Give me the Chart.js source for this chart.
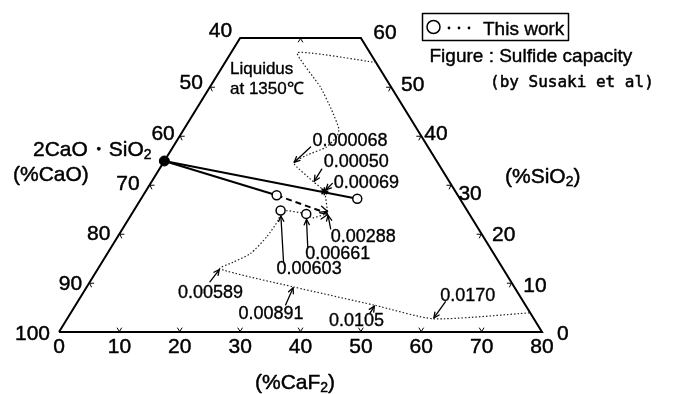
<!DOCTYPE html>
<html>
<head>
<meta charset="utf-8">
<script src="https://cdn.jsdelivr.net/npm/chart.js@4/dist/chart.umd.min.js"></script>
<style>
  html, body { margin: 0; padding: 0; background: #fff; }
  canvas { display: block; }
</style>
</head>
<body>
<canvas id="c" width="676" height="394"></canvas>
<script>
// CaO–SiO2–CaF2 section, compositions in mass %: CaF2 and SiO2 given, CaO is the rest.
const c2sCaF2 = 0;      // 2CaO·SiO2
const c2sSiO2 = 34.9;

// Slag compositions measured in this work
const thisWorkCaF2 = [35.8, 22.1, 24.3, 28.9];
const thisWorkSiO2 = [27.2, 27.9, 24.8, 24.1];

// Liquidus at 1350 °C, upper branch (from the CaO 20 % side down to the 0.00288 point)
const liquidusUpperCaF2 = [25.0, 11.0, 18.3, 22.6, 25.6, 26.1, 25.4, 23.0, 21.6, 26.9, 29.6, 32.4];
const liquidusUpperSiO2 = [55.0, 57.0, 50.0, 45.2, 41.5, 40.0, 37.7, 36.1, 34.5, 30.6, 28.7, 24.2];

// Liquidus at 1350 °C, lower branch (from the 0.00288 point to the CaO 20 % side)
const liquidusLowerCaF2 = [32.4, 30.3, 28.9, 24.3, 24.9, 24.7, 23.7, 21.8, 20.2, 34.25, 49.6, 60.65, 76.0];
const liquidusLowerSiO2 = [24.2, 23.3, 24.1, 24.8, 23.0, 19.4, 16.0, 14.3, 12.9, 9.2, 5.45, 2.7, 3.9];

// Sulfide capacities (Susaki et al.) marked along the liquidus
const capacityText = ['0.000068', '0.00050', '0.00069', '0.00288', '0.00661', '0.00603', '0.00589', '0.00891', '0.0105', '0.0170'];
const capacityCaF2 = [21.6, 26.9, 29.6, 32.4, 28.9, 24.3, 20.2, 34.25, 49.6, 60.65];
const capacitySiO2 = [34.5, 30.6, 28.7, 24.2, 24.1, 24.8, 12.9, 9.2, 5.45, 2.7];

// Axis ticks
const caf2Ticks = [0, 10, 20, 30, 40, 50, 60, 70, 80];
const caoTicks = [100, 90, 80, 70, 60, 50, 40];
const sio2Ticks = [0, 10, 20, 30, 40, 50, 60];

// Label placement (pixel offsets): text anchor, leader start, gap at the marked point
const capacityLabelLayout = [
  { tx: 19, ty: -17, lx: 17, ly: -16, gap: 1 },
  { tx: 10, ty: -15, lx: 8, ly: -13, gap: 1 },
  { tx: 9.5, ty: -3.5, lx: 8, ly: -8, gap: 2 },
  { tx: 3, ty: 28.5, lx: 3, ly: 15.5, gap: 2 },
  { tx: -1, ty: 45.5, lx: 1.5, ly: 33, gap: 5.5 },
  { tx: -4, ty: 64, lx: 3, ly: 52, gap: 5.5 },
  { tx: -42, ty: 29, lx: -10, ly: 13, gap: 1 },
  { tx: -55, ty: 32, lx: -8, ly: 18, gap: 1 },
  { tx: -46, ty: 21, lx: -5, ly: 8, gap: 1 },
  { tx: 7, ty: -17.6, lx: 12, ly: -17, gap: 1 }
];
const leftLabelNudge = [[-9, 7.5], [-7, 6.5], [-9, 5.5], [-10, 4.5], [-5, 3.5], [-7, 2], [-8, -1]];
const rightLabelNudge = [[15, 8.3], [11.4, 8.8], [10.4, 6.8], [7, 15], [3, 3.5], [10, 3.5], [12.4, 1.3]];

// Ternary projection onto the chart's x/y scales
const toXY = (caf2, sio2) => ({ x: caf2 + sio2 / 2, y: sio2 });
const zipXY = (a, b) => a.map((v, i) => toXY(v, b[i]));

const boundary = [toXY(0, 0), toXY(80, 0), toXY(20, 60), toXY(0, 60), toXY(0, 0)];

const lineBase = { showLine: true, pointRadius: 0, clip: false, fill: false, borderColor: '#000' };

const datasets = [
  { // 2CaO·SiO2
    data: [toXY(c2sCaF2, c2sSiO2)], pointRadius: 5, pointBackgroundColor: '#000',
    pointBorderColor: '#000', pointBorderWidth: 1, showLine: false, clip: false
  },
  { // this work
    data: zipXY(thisWorkCaF2, thisWorkSiO2), pointRadius: 4.5, pointBackgroundColor: '#fff',
    pointBorderColor: '#000', pointBorderWidth: 1.5, showLine: false, clip: false
  },
  { // marker where the liquidus crosses the tie line
    data: [toXY(capacityCaF2[2], capacitySiO2[2])], pointStyle: 'star', pointRadius: 4,
    pointBorderColor: '#000', pointBorderWidth: 1.5, showLine: false, clip: false
  },
  { ...lineBase, data: [toXY(c2sCaF2, c2sSiO2), toXY(thisWorkCaF2[0], thisWorkSiO2[0])], borderWidth: 2 },
  { ...lineBase, data: [toXY(c2sCaF2, c2sSiO2), toXY(thisWorkCaF2[1], thisWorkSiO2[1])], borderWidth: 2 },
  { ...lineBase, data: [toXY(thisWorkCaF2[1], thisWorkSiO2[1]), toXY(capacityCaF2[3], capacitySiO2[3])],
    borderWidth: 2, borderDash: [6, 4] },
  { ...lineBase, data: zipXY(liquidusUpperCaF2, liquidusUpperSiO2), borderWidth: 1.2,
    borderDash: [1.5, 2], borderColor: '#222', tension: 0.15 },
  { ...lineBase, data: zipXY(liquidusLowerCaF2, liquidusLowerSiO2), borderWidth: 1.2,
    borderDash: [1.5, 2], borderColor: '#222', tension: 0.2 },
  { ...lineBase, data: boundary, borderWidth: 2, tension: 0 }
];

function arrowHead(ctx, tip, from, len, spread) {
  const a = Math.atan2(tip.y - from.y, tip.x - from.x);
  ctx.beginPath();
  ctx.moveTo(tip.x - len * Math.cos(a - spread), tip.y - len * Math.sin(a - spread));
  ctx.lineTo(tip.x, tip.y);
  ctx.lineTo(tip.x - len * Math.cos(a + spread), tip.y - len * Math.sin(a + spread));
  ctx.stroke();
}

// filled text with a hairline outline so the glyphs read a little heavier
function inkText(ctx, t, x, y) {
  ctx.fillText(t, x, y);
  ctx.strokeText(t, x, y);
}

function chem(ctx, parts, x, y, size) {
  // parts: [text, isSubscript]
  const sub = Math.round(size * 0.66);
  let cx = x;
  ctx.textAlign = 'left';
  parts.forEach(([t, s]) => {
    ctx.font = (s ? sub : size) + 'px "Liberation Sans", Arial, sans-serif';
    inkText(ctx, t, cx, s ? y + 3 : y);
    cx += ctx.measureText(t).width;
  });
}

const ternaryDecor = {
  id: 'ternaryDecor',
  afterDatasetsDraw(chart) {
    const ctx = chart.ctx;
    const xs = chart.scales.x, ys = chart.scales.y;
    const px = (caf2, sio2) => ({ x: xs.getPixelForValue(caf2 + sio2 / 2), y: ys.getPixelForValue(sio2) });
    const SANS = '"Liberation Sans", Arial, sans-serif';
    ctx.save();
    ctx.strokeStyle = '#000';
    ctx.fillStyle = '#000';
    ctx.lineCap = 'round';
    ctx.lineJoin = 'round';

    // edge tick marks: small outward-pointing arrowheads
    const BL = px(0, 0), BR = px(80, 0), TR = px(20, 60), TL = px(0, 60);
    const cen = { x: (BL.x + BR.x + TR.x + TL.x) / 4, y: (BL.y + BR.y + TR.y + TL.y) / 4 };
    const inward = (A, B) => {
      const dx = B.x - A.x, dy = B.y - A.y, L = Math.hypot(dx, dy);
      let n = { x: -dy / L, y: dx / L };
      const m = { x: (A.x + B.x) / 2, y: (A.y + B.y) / 2 };
      if ((cen.x - m.x) * n.x + (cen.y - m.y) * n.y < 0) n = { x: -n.x, y: -n.y };
      return n;
    };
    const tick = (p, n) => {
      const t = { x: -n.y, y: n.x };
      ctx.beginPath();
      ctx.moveTo(p.x + 4 * n.x + 2.2 * t.x, p.y + 4 * n.y + 2.2 * t.y);
      ctx.lineTo(p.x + 0.5 * n.x, p.y + 0.5 * n.y);
      ctx.lineTo(p.x + 4 * n.x - 2.2 * t.x, p.y + 4 * n.y - 2.2 * t.y);
      ctx.stroke();
    };
    ctx.lineWidth = 1;
    const nB = inward(BL, BR), nL = inward(BL, TL), nR = inward(BR, TR), nT = inward(TL, TR);
    caf2Ticks.slice(1, -1).forEach(v => tick(px(v, 0), nB));
    caoTicks.slice(1, -1).forEach(v => tick(px(0, 100 - v), nL));
    sio2Ticks.slice(1, -1).forEach(v => tick(px(80 - v, v), nR));
    [10].forEach(v => tick(px(v, 60), nT));

    // tick labels
    ctx.lineWidth = 0.45;
    ctx.font = '21px ' + SANS;
    ctx.textBaseline = 'alphabetic';
    ctx.textAlign = 'center';
    caf2Ticks.forEach(v => { const p = px(v, 0); inkText(ctx, String(v), p.x, p.y + 20.5); });
    ctx.textAlign = 'right';
    caoTicks.forEach((v, i) => { const p = px(0, 100 - v); inkText(ctx, String(v), p.x + leftLabelNudge[i][0], p.y + leftLabelNudge[i][1]); });
    ctx.textAlign = 'left';
    sio2Ticks.forEach((v, i) => { const p = px(80 - v, v); inkText(ctx, String(v), p.x + rightLabelNudge[i][0], p.y + rightLabelNudge[i][1]); });

    // component titles
    chem(ctx, [['2CaO・SiO', false], ['2', true]], 33, 155.5, 21);
    chem(ctx, [['(%CaO)', false]], 13, 181, 21);
    chem(ctx, [['(%SiO', false], ['2', true], [')', false]], 505, 183, 21);
    chem(ctx, [['(%CaF', false], ['2', true], [')', false]], 255, 389, 21);

    // liquidus caption
    ctx.lineWidth = 0.35;
    ctx.font = '17px ' + SANS;
    ctx.textAlign = 'left';
    inkText(ctx, 'Liquidus', 230, 73.5);
    inkText(ctx, 'at 1350℃', 230, 94);

    // arrowheads on the composition paths meeting at the 0.00288 point
    ctx.lineWidth = 1.3;
    const p288 = px(capacityCaF2[3], capacitySiO2[3]);
    arrowHead(ctx, { x: p288.x, y: p288.y - 2 }, px(thisWorkCaF2[1], thisWorkSiO2[1]), 8, 0.4);
    arrowHead(ctx, { x: p288.x, y: p288.y + 1 }, px(liquidusLowerCaF2[1], liquidusLowerSiO2[1]), 8, 0.4);

    // sulfide capacity labels with leaders
    ctx.font = '18px ' + SANS;
    ctx.textAlign = 'left';
    capacityText.forEach((txt, i) => {
      const p = px(capacityCaF2[i], capacitySiO2[i]);
      const L = capacityLabelLayout[i];
      ctx.lineWidth = 0.35;
      inkText(ctx, txt, p.x + L.tx, p.y + L.ty);
      const s = { x: p.x + L.lx, y: p.y + L.ly };
      const d = Math.hypot(s.x - p.x, s.y - p.y);
      const e = { x: p.x + (s.x - p.x) / d * L.gap, y: p.y + (s.y - p.y) / d * L.gap };
      ctx.lineWidth = 1.3;
      ctx.beginPath(); ctx.moveTo(s.x, s.y); ctx.lineTo(e.x, e.y); ctx.stroke();
      arrowHead(ctx, e, s, 6, 0.45);
    });

    // key
    ctx.lineWidth = 1.5;
    ctx.strokeRect(422.5, 13.5, 146, 27);
    ctx.beginPath(); ctx.arc(433.5, 27, 6.5, 0, Math.PI * 2); ctx.stroke();
    [449, 459, 469].forEach(x => { ctx.beginPath(); ctx.arc(x, 28, 1.4, 0, Math.PI * 2); ctx.fill(); });
    ctx.lineWidth = 0.4;
    ctx.font = '19px ' + SANS;
    inkText(ctx, 'This work', 483, 34.5);
    inkText(ctx, 'Figure : Sulfide capacity', 429.5, 62);
    ctx.lineWidth = 0.5;
    ctx.font = '16px "DejaVu Sans Mono", "Liberation Mono", monospace';
    inkText(ctx, '(by Susaki et al)', 490, 87);

    ctx.restore();
  }
};

new Chart(document.getElementById('c'), {
  type: 'scatter',
  data: { datasets },
  options: {
    responsive: false,
    animation: false,
    events: [],
    layout: { padding: { left: 59, right: 134, top: 38, bottom: 62 } },
    scales: {
      x: { type: 'linear', min: 0, max: 80, display: false },
      y: { type: 'linear', min: 0, max: 60, display: false }
    },
    plugins: { legend: { display: false }, tooltip: { enabled: false } }
  },
  plugins: [ternaryDecor]
});
</script>
</body>
</html>
